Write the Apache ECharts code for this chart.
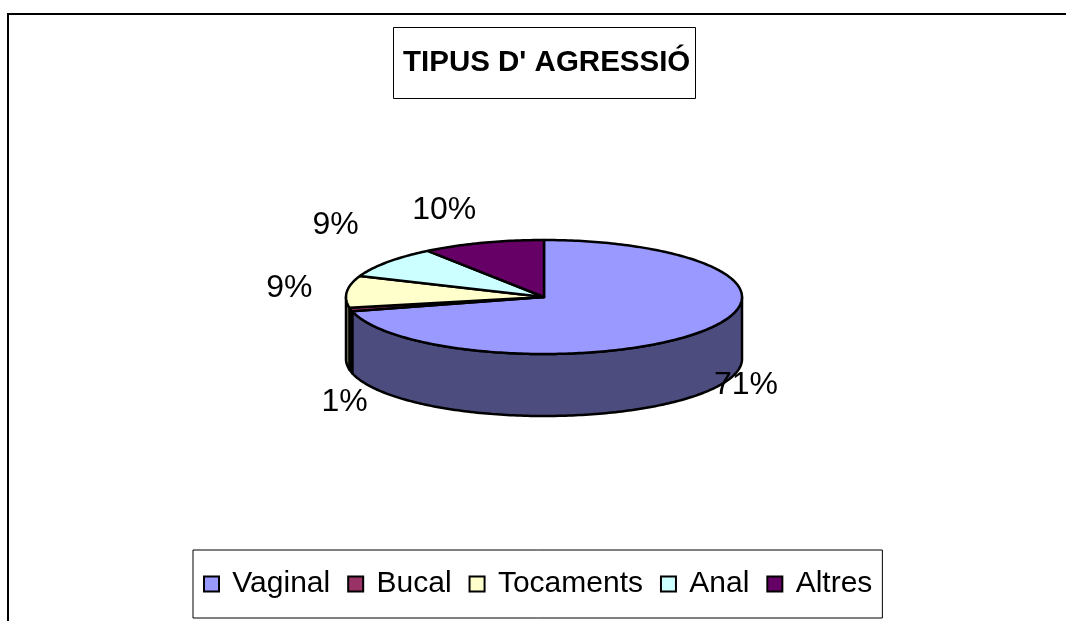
<!DOCTYPE html>
<html>
<head>
<meta charset="utf-8">
<script src="https://cdn.jsdelivr.net/npm/echarts@6/dist/echarts.min.js"></script>
<style>
  html, body { margin: 0; padding: 0; background: #fff; }
  #chart { width: 1066px; height: 621px; }
</style>
</head>
<body>
<div id="chart"></div>
<script>
  const categories = ['Vaginal', 'Bucal', 'Tocaments', 'Anal', 'Altres']
  const values = [71, 1, 9, 9, 10]

  const topColors = ['#9999FF', '#993366', '#FFFFCC', '#CCFFFF', '#660066']
  const sideColors = ['#4C4C7F', '#4C1933', '#808066', '#667F7F', '#330033']

  // pie geometry (ellipse of the top face, thickness of the side)
  const cx = 544
  const cy = 297
  const rx = 198
  const ry = 57
  const depth = 62
  const font = '"Liberation Sans", Arial, sans-serif'

  const total = values.reduce((a, b) => a + b, 0)

  function pt (deg, dy) {
    const r = deg * Math.PI / 180
    return [cx + rx * Math.sin(r), cy - ry * Math.cos(r) + (dy || 0)]
  }

  function arc (a, b, dy) {
    const pts = []
    const n = Math.max(2, Math.ceil(Math.abs(b - a)))
    for (let k = 0; k <= n; k++) pts.push(pt(a + (b - a) * k / n, dy))
    return pts
  }

  function renderSlice (i) {
    return function () {
      const before = values.slice(0, i).reduce((a, b) => a + b, 0)
      const start = before / total * 360
      const end = (before + values[i]) / total * 360
      const children = []
      const line = { stroke: '#000', lineWidth: 2.5, lineJoin: 'round' }

      // front side wall
      const fa = Math.max(start, 90)
      const fb = Math.min(end, 270)
      if (fb > fa) {
        const pts = arc(fa, fb, 0).concat(arc(fb, fa, depth))
        children.push({
          type: 'polygon',
          shape: { points: pts },
          style: Object.assign({ fill: sideColors[i] }, line)
        })
      }

      // top face
      children.push({
        type: 'polygon',
        shape: { points: [[cx, cy]].concat(arc(start, end, 0)) },
        style: Object.assign({ fill: topColors[i] }, line)
      })

      // percentage label, outside the slice (back ones above the rim, front ones beside the wall)
      const mid = (start + end) / 2 * Math.PI / 180
      const s = Math.sin(mid)
      const c = Math.cos(mid)
      let lx, ly
      if (c >= 0) {
        lx = cx + s * rx * 1.14 + Math.sign(s) * 30
        ly = cy - c * (ry + 28) - 135 * c * c * (1 - c)
      } else {
        lx = cx + s * (rx - 22 - 130 * c)
        ly = cy + depth + 53 + 43 * c
      }
      children.push({
        type: 'text',
        style: {
          text: Math.round(values[i] / total * 100) + '%',
          x: lx,
          y: ly,
          align: 'center',
          verticalAlign: 'middle',
          fontSize: 32,
          fontFamily: font,
          fill: '#000'
        }
      })

      return { type: 'group', children: children }
    }
  }

  const chart = echarts.init(document.getElementById('chart'))

  chart.setOption({
    animation: false,
    title: {
      text: "TIPUS D' AGRESSIÓ",
      left: 393,
      top: 27,
      padding: [21, 5, 21, 10],
      borderColor: '#000',
      borderWidth: 1,
      textStyle: {
        fontFamily: font,
        fontSize: 29.5,
        fontWeight: 'bold',
        color: '#000',
        lineHeight: 30
      }
    },
    legend: {
      left: 193,
      top: 550,
      padding: [19, 10, 19, 10],
      borderColor: '#000',
      borderWidth: 1,
      itemGap: 17,
      itemWidth: 15,
      itemHeight: 15,
      icon: 'rect',
      itemStyle: { borderColor: '#000', borderWidth: 2 },
      formatter: name => ' ' + name,
      textStyle: {
        fontFamily: font,
        fontSize: 30,
        color: '#000',
        lineHeight: 29
      },
      data: categories
    },
    graphic: [{
      type: 'rect',
      z: -10,
      shape: { x: 8, y: 14, width: 1200, height: 800 },
      style: { fill: 'none', stroke: '#000', lineWidth: 2 }
    }],
    series: categories.map((name, i) => ({
      type: 'custom',
      name: name,
      coordinateSystem: 'none',
      itemStyle: { color: topColors[i] },
      renderItem: renderSlice(i),
      data: [[values[i]]]
    }))
  })
</script>
</body>
</html>
